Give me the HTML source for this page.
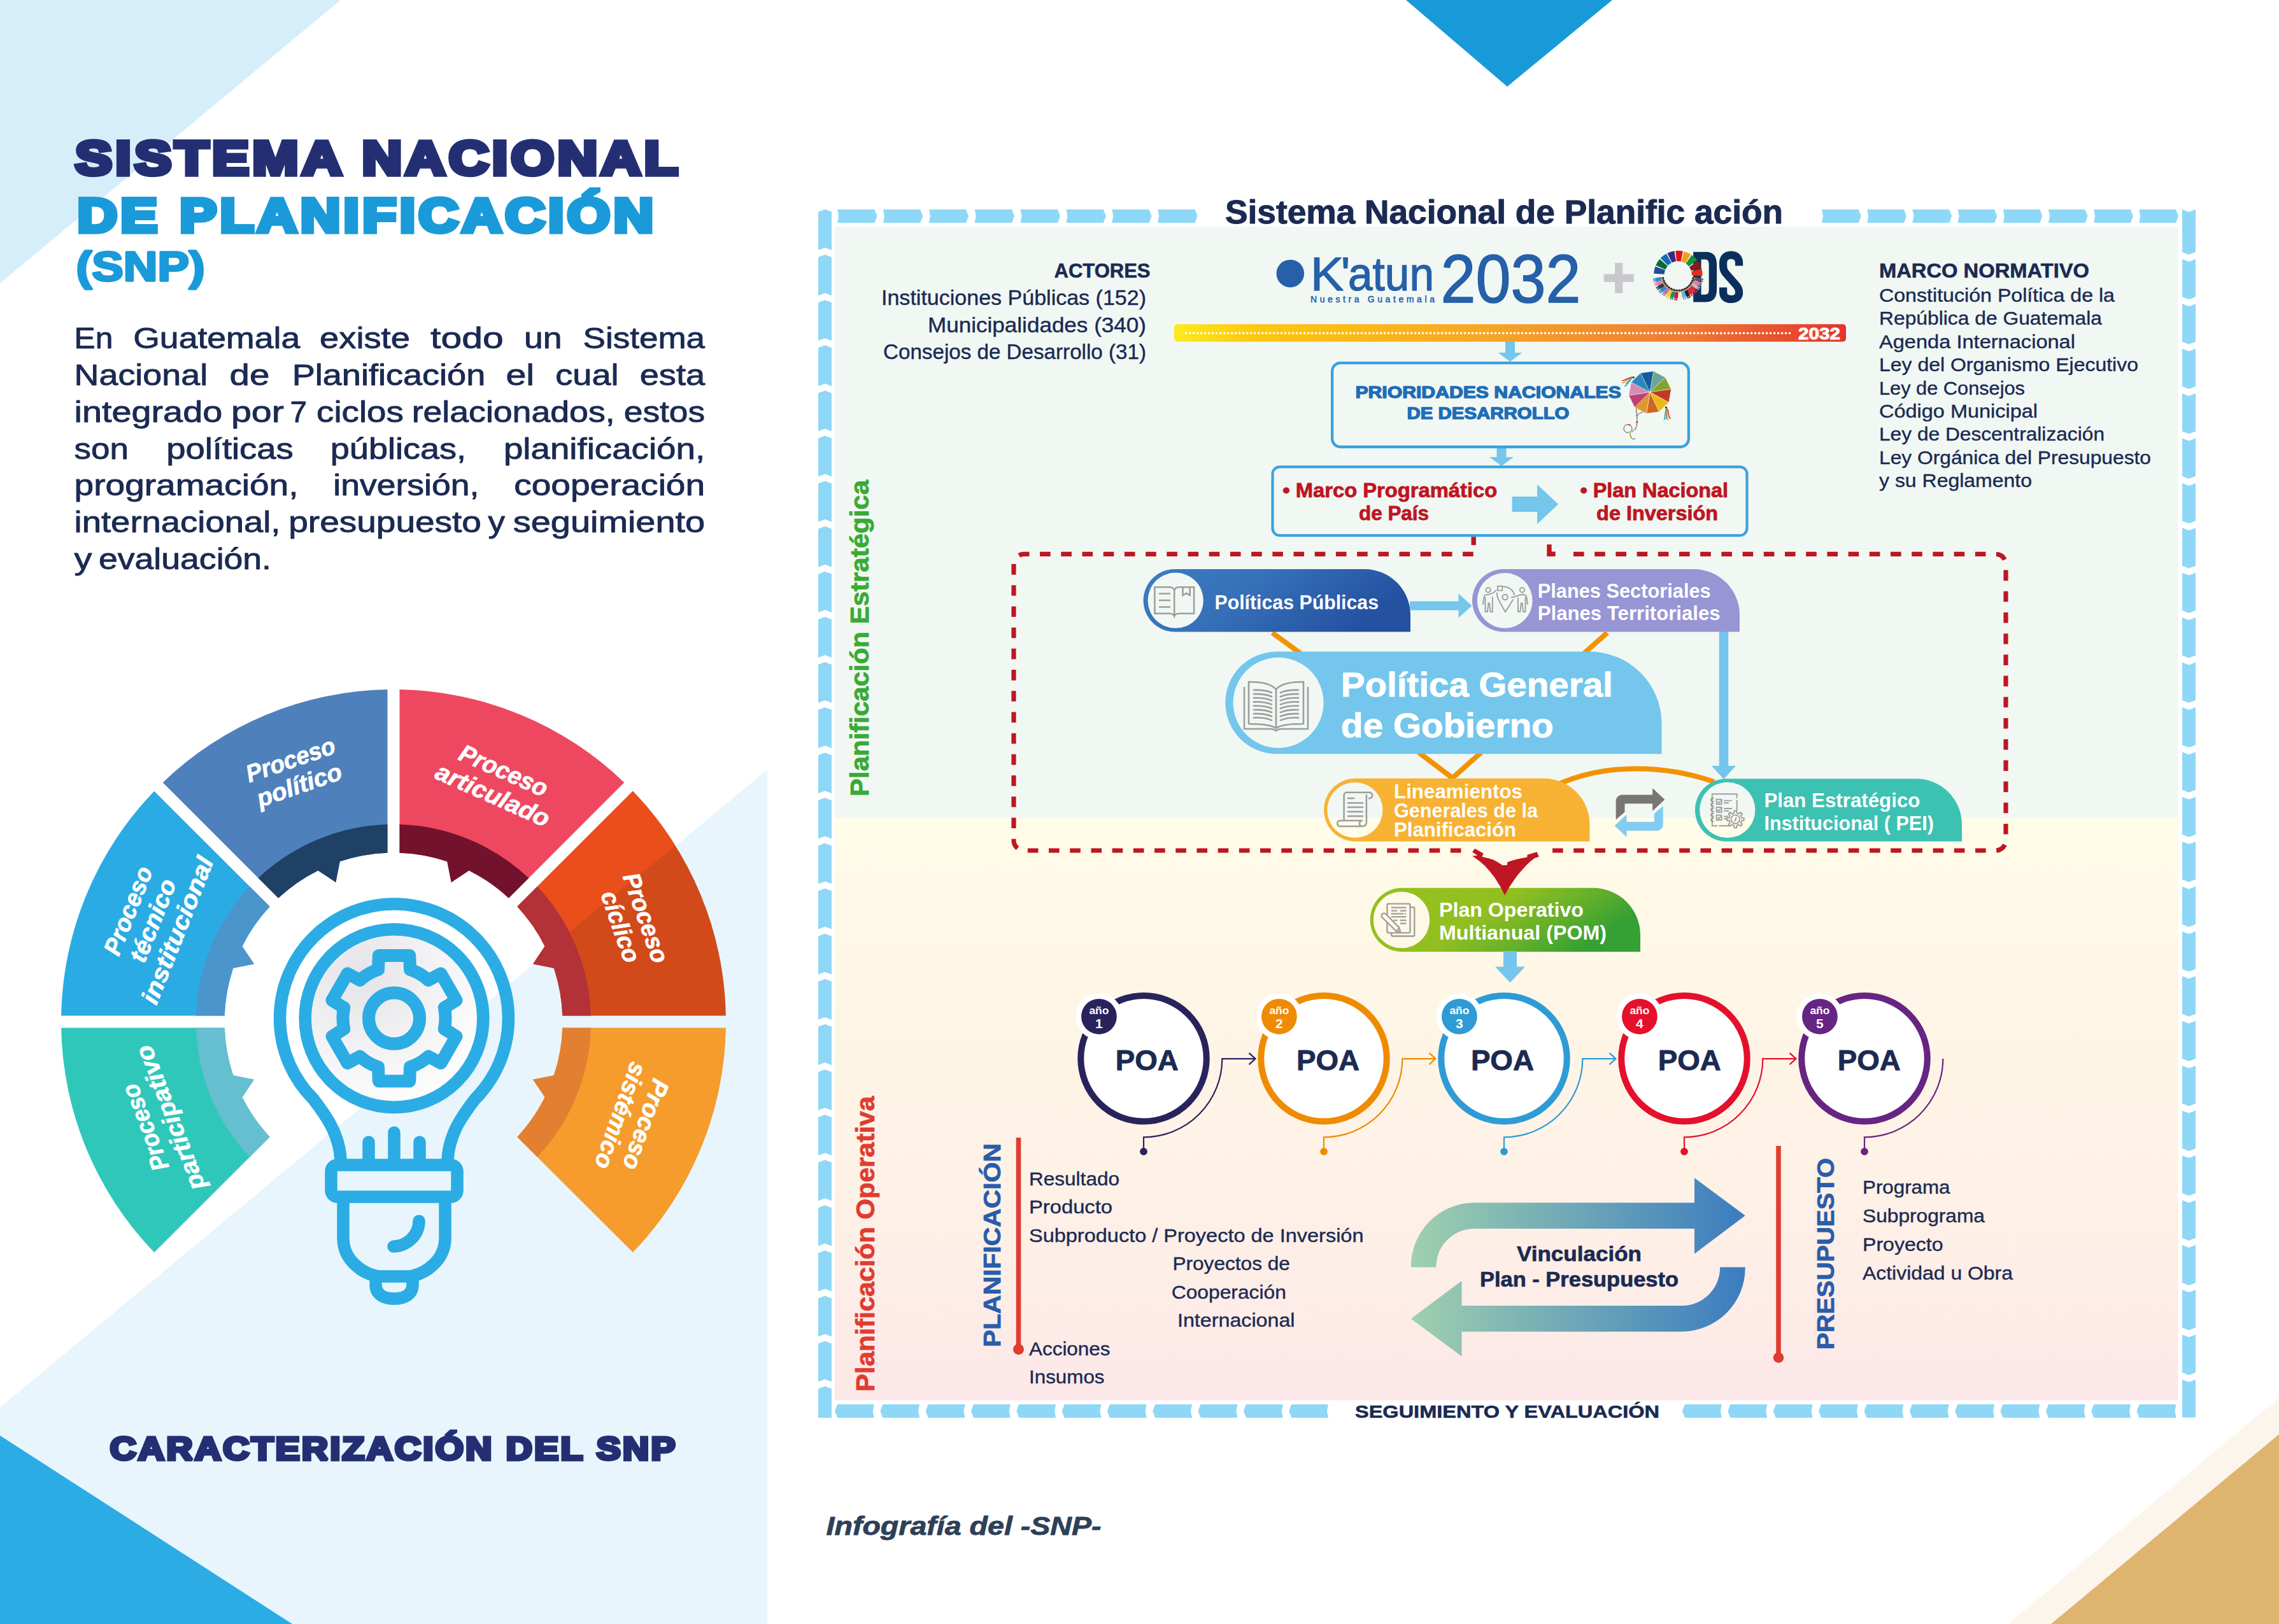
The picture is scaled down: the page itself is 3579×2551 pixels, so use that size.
<!DOCTYPE html>
<html><head><meta charset="utf-8"><title>SNP</title><style>html,body{margin:0;padding:0;background:#fff}body{width:3579px;height:2551px;overflow:hidden;font-family:"Liberation Sans",sans-serif}svg{display:block}</style></head><body>
<svg width="3579" height="2551" viewBox="0 0 3579 2551" font-family="'Liberation Sans', sans-serif">
<rect width="3579" height="2551" fill="#fff"/>
<polygon points="0,0 535,0 0,445" fill="#D6EEF9"/>
<polygon points="0,2211 1205,1209 1205,2551 0,2551" fill="#E8F5FC"/>
<polygon points="0,2255 459,2551 0,2551" fill="#2BACE4"/>
<polygon points="2208,0 2532,0 2367,136" fill="#189AD9"/>
<polygon points="3153.6,2551 3579,2195.8 3579,2551" fill="#FBF5EC"/>
<polygon points="3221,2551 3579,2253 3579,2551" fill="#DEB46F"/>
<text x="118.3" y="274.2" font-size="74" fill="#232F72" font-weight="700" textLength="952.0" lengthAdjust="spacingAndGlyphs" stroke="#232F72" stroke-width="7.5" stroke-linejoin="round" letter-spacing="5" style="stroke-linejoin:miter;stroke-miterlimit:2">SISTEMA NACIONAL</text>
<text x="121.7" y="363.7" font-size="74" fill="#1A9AD9" font-weight="700" textLength="910.0" lengthAdjust="spacingAndGlyphs" stroke="#1A9AD9" stroke-width="7.5" stroke-linejoin="round" letter-spacing="5" style="stroke-linejoin:miter;stroke-miterlimit:2">DE PLANIFICACIÓN</text>
<text x="119.6" y="440.5" font-size="64" fill="#1A9AD9" font-weight="700" textLength="202.0" lengthAdjust="spacingAndGlyphs" stroke="#1A9AD9" stroke-width="3.5" stroke-linejoin="round" >(SNP)</text>
<text x="116.6" y="547.4" font-size="46.5" fill="#1B2A52" textLength="60.9" lengthAdjust="spacingAndGlyphs" stroke="#1B2A52" stroke-width="0.9" stroke-linejoin="round" >En</text>
<text x="209.2" y="547.4" font-size="46.5" fill="#1B2A52" textLength="262.0" lengthAdjust="spacingAndGlyphs" stroke="#1B2A52" stroke-width="0.9" stroke-linejoin="round" >Guatemala</text>
<text x="502.1" y="547.4" font-size="46.5" fill="#1B2A52" textLength="141.8" lengthAdjust="spacingAndGlyphs" stroke="#1B2A52" stroke-width="0.9" stroke-linejoin="round" >existe</text>
<text x="676.1" y="547.4" font-size="46.5" fill="#1B2A52" textLength="114.6" lengthAdjust="spacingAndGlyphs" stroke="#1B2A52" stroke-width="0.9" stroke-linejoin="round" >todo</text>
<text x="823.0" y="547.4" font-size="46.5" fill="#1B2A52" textLength="59.5" lengthAdjust="spacingAndGlyphs" stroke="#1B2A52" stroke-width="0.9" stroke-linejoin="round" >un</text>
<text x="915.6" y="547.4" font-size="46.5" fill="#1B2A52" textLength="191.5" lengthAdjust="spacingAndGlyphs" stroke="#1B2A52" stroke-width="0.9" stroke-linejoin="round" >Sistema</text>
<text x="116.6" y="605.1" font-size="46.5" fill="#1B2A52" textLength="209.5" lengthAdjust="spacingAndGlyphs" stroke="#1B2A52" stroke-width="0.9" stroke-linejoin="round" >Nacional</text>
<text x="360.6" y="605.1" font-size="46.5" fill="#1B2A52" textLength="62.7" lengthAdjust="spacingAndGlyphs" stroke="#1B2A52" stroke-width="0.9" stroke-linejoin="round" >de</text>
<text x="458.7" y="605.1" font-size="46.5" fill="#1B2A52" textLength="303.6" lengthAdjust="spacingAndGlyphs" stroke="#1B2A52" stroke-width="0.9" stroke-linejoin="round" >Planificación</text>
<text x="794.5" y="605.1" font-size="46.5" fill="#1B2A52" textLength="44.6" lengthAdjust="spacingAndGlyphs" stroke="#1B2A52" stroke-width="0.9" stroke-linejoin="round" >el</text>
<text x="872.3" y="605.1" font-size="46.5" fill="#1B2A52" textLength="99.3" lengthAdjust="spacingAndGlyphs" stroke="#1B2A52" stroke-width="0.9" stroke-linejoin="round" >cual</text>
<text x="1004.7" y="605.1" font-size="46.5" fill="#1B2A52" textLength="102.4" lengthAdjust="spacingAndGlyphs" stroke="#1B2A52" stroke-width="0.9" stroke-linejoin="round" >esta</text>
<text x="116.6" y="662.8" font-size="46.5" fill="#1B2A52" textLength="232.6" lengthAdjust="spacingAndGlyphs" stroke="#1B2A52" stroke-width="0.9" stroke-linejoin="round" >integrado</text>
<text x="362.9" y="662.8" font-size="46.5" fill="#1B2A52" textLength="83.0" lengthAdjust="spacingAndGlyphs" stroke="#1B2A52" stroke-width="0.9" stroke-linejoin="round" >por</text>
<text x="455.5" y="662.8" font-size="46.5" fill="#1B2A52" textLength="26.5" lengthAdjust="spacingAndGlyphs" stroke="#1B2A52" stroke-width="0.9" stroke-linejoin="round" >7</text>
<text x="497.1" y="662.8" font-size="46.5" fill="#1B2A52" textLength="136.8" lengthAdjust="spacingAndGlyphs" stroke="#1B2A52" stroke-width="0.9" stroke-linejoin="round" >ciclos</text>
<text x="646.7" y="662.8" font-size="46.5" fill="#1B2A52" textLength="318.9" lengthAdjust="spacingAndGlyphs" stroke="#1B2A52" stroke-width="0.9" stroke-linejoin="round" >relacionados,</text>
<text x="979.8" y="662.8" font-size="46.5" fill="#1B2A52" textLength="127.3" lengthAdjust="spacingAndGlyphs" stroke="#1B2A52" stroke-width="0.9" stroke-linejoin="round" >estos</text>
<text x="116.6" y="720.5" font-size="46.5" fill="#1B2A52" textLength="85.3" lengthAdjust="spacingAndGlyphs" stroke="#1B2A52" stroke-width="0.9" stroke-linejoin="round" >son</text>
<text x="261.2" y="720.5" font-size="46.5" fill="#1B2A52" textLength="199.6" lengthAdjust="spacingAndGlyphs" stroke="#1B2A52" stroke-width="0.9" stroke-linejoin="round" >políticas</text>
<text x="518.8" y="720.5" font-size="46.5" fill="#1B2A52" textLength="213.2" lengthAdjust="spacingAndGlyphs" stroke="#1B2A52" stroke-width="0.9" stroke-linejoin="round" >públicas,</text>
<text x="790.9" y="720.5" font-size="46.5" fill="#1B2A52" textLength="316.2" lengthAdjust="spacingAndGlyphs" stroke="#1B2A52" stroke-width="0.9" stroke-linejoin="round" >planificación,</text>
<text x="116.6" y="778.2" font-size="46.5" fill="#1B2A52" textLength="351.9" lengthAdjust="spacingAndGlyphs" stroke="#1B2A52" stroke-width="0.9" stroke-linejoin="round" >programación,</text>
<text x="523.3" y="778.2" font-size="46.5" fill="#1B2A52" textLength="229.0" lengthAdjust="spacingAndGlyphs" stroke="#1B2A52" stroke-width="0.9" stroke-linejoin="round" >inversión,</text>
<text x="807.2" y="778.2" font-size="46.5" fill="#1B2A52" textLength="299.9" lengthAdjust="spacingAndGlyphs" stroke="#1B2A52" stroke-width="0.9" stroke-linejoin="round" >cooperación</text>
<text x="116.6" y="835.9" font-size="46.5" fill="#1B2A52" textLength="323.9" lengthAdjust="spacingAndGlyphs" stroke="#1B2A52" stroke-width="0.9" stroke-linejoin="round" >internacional,</text>
<text x="453.3" y="835.9" font-size="46.5" fill="#1B2A52" textLength="302.6" lengthAdjust="spacingAndGlyphs" stroke="#1B2A52" stroke-width="0.9" stroke-linejoin="round" >presupuesto</text>
<text x="766.5" y="835.9" font-size="46.5" fill="#1B2A52" textLength="26.5" lengthAdjust="spacingAndGlyphs" stroke="#1B2A52" stroke-width="0.9" stroke-linejoin="round" >y</text>
<text x="805.8" y="835.9" font-size="46.5" fill="#1B2A52" textLength="301.3" lengthAdjust="spacingAndGlyphs" stroke="#1B2A52" stroke-width="0.9" stroke-linejoin="round" >seguimiento</text>
<text x="116.6" y="893.6" font-size="46.5" fill="#1B2A52" textLength="27.9" lengthAdjust="spacingAndGlyphs" stroke="#1B2A52" stroke-width="0.9" stroke-linejoin="round" >y</text>
<text x="155.0" y="893.6" font-size="46.5" fill="#1B2A52" textLength="271.0" lengthAdjust="spacingAndGlyphs" stroke="#1B2A52" stroke-width="0.9" stroke-linejoin="round" >evaluación.</text>
<text x="172.7" y="2293.2" font-size="50" fill="#232F72" font-weight="700" textLength="891.0" lengthAdjust="spacingAndGlyphs" stroke="#232F72" stroke-width="5" stroke-linejoin="round" letter-spacing="3" style="stroke-linejoin:miter;stroke-miterlimit:2">CARACTERIZACIÓN DEL SNP</text>
<path d="M1139.9,1614.5 A522,522 0 0 1 993.8,1967.3 L812.3,1785.9 A265.5,265.5 0 0 0 855.6,1723.5 L837.0,1695.7 L869.8,1689.2 A265.5,265.5 0 0 0 883.3,1614.5 Z" fill="#F59C2D"/>
<path d="M927.9,1614.5 A310,310 0 0 1 843.8,1817.4 L812.3,1785.9 A265.5,265.5 0 0 0 855.6,1723.5 L837.0,1695.7 L869.8,1689.2 A265.5,265.5 0 0 0 883.3,1614.5 Z" fill="#E37F30"/>
<path d="M242.2,1967.3 A522,522 0 0 1 96.1,1614.5 L352.7,1614.5 A265.5,265.5 0 0 0 366.2,1689.2 L399.0,1695.7 L380.4,1723.5 A265.5,265.5 0 0 0 423.7,1785.9 Z" fill="#30C7BB"/>
<path d="M392.2,1817.4 A310,310 0 0 1 308.1,1614.5 L352.7,1614.5 A265.5,265.5 0 0 0 366.2,1689.2 L399.0,1695.7 L380.4,1723.5 A265.5,265.5 0 0 0 423.7,1785.9 Z" fill="#66BFD0"/>
<path d="M96.1,1595.5 A522,522 0 0 1 242.2,1242.7 L423.7,1424.1 A265.5,265.5 0 0 0 380.4,1486.5 L399.0,1514.3 L366.2,1520.8 A265.5,265.5 0 0 0 352.7,1595.5 Z" fill="#2BABE3"/>
<path d="M308.1,1595.5 A310,310 0 0 1 392.2,1392.6 L423.7,1424.1 A265.5,265.5 0 0 0 380.4,1486.5 L399.0,1514.3 L366.2,1520.8 A265.5,265.5 0 0 0 352.7,1595.5 Z" fill="#4A95CC"/>
<path d="M255.7,1229.2 A522,522 0 0 1 608.5,1083.1 L608.5,1339.7 A265.5,265.5 0 0 0 533.8,1353.2 L527.3,1386.0 L499.5,1367.4 A265.5,265.5 0 0 0 437.1,1410.7 Z" fill="#4E80BC"/>
<path d="M405.6,1379.2 A310,310 0 0 1 608.5,1295.1 L608.5,1339.7 A265.5,265.5 0 0 0 533.8,1353.2 L527.3,1386.0 L499.5,1367.4 A265.5,265.5 0 0 0 437.1,1410.7 Z" fill="#1F4166"/>
<path d="M627.5,1083.1 A522,522 0 0 1 980.3,1229.2 L798.9,1410.7 A265.5,265.5 0 0 0 736.5,1367.4 L708.7,1386.0 L702.2,1353.2 A265.5,265.5 0 0 0 627.5,1339.7 Z" fill="#EE4860"/>
<path d="M627.5,1295.1 A310,310 0 0 1 830.4,1379.2 L798.9,1410.7 A265.5,265.5 0 0 0 736.5,1367.4 L708.7,1386.0 L702.2,1353.2 A265.5,265.5 0 0 0 627.5,1339.7 Z" fill="#73122C"/>
<path d="M993.8,1242.7 A522,522 0 0 1 1139.9,1595.5 L883.3,1595.5 A265.5,265.5 0 0 0 869.8,1520.8 L837.0,1514.3 L855.6,1486.5 A265.5,265.5 0 0 0 812.3,1424.1 Z" fill="#D34A1A"/>
<clipPath id="cpc"><path d="M993.8,1242.7 A522,522 0 0 1 1139.9,1595.5 L883.3,1595.5 A265.5,265.5 0 0 0 869.8,1520.8 L837.0,1514.3 L855.6,1486.5 A265.5,265.5 0 0 0 812.3,1424.1 Z"/></clipPath><polygon clip-path="url(#cpc)" points="753.7,1578.4 1192.6,1220.8 1192,1000 700,1000 700,1578" fill="#E94E1B"/>
<path d="M843.8,1392.6 A310,310 0 0 1 927.9,1595.5 L883.3,1595.5 A265.5,265.5 0 0 0 869.8,1520.8 L837.0,1514.3 L855.6,1486.5 A265.5,265.5 0 0 0 812.3,1424.1 Z" fill="#B23238"/>
<g transform="translate(467.3,1225.7) rotate(-19)" font-size="38.5" font-weight="700" font-style="italic" fill="#fff" text-anchor="middle" stroke="#fff" stroke-width="0.7"><text x="0" y="-21.0" textLength="146" lengthAdjust="spacingAndGlyphs">Proceso</text><text x="0" y="21.0" textLength="139" lengthAdjust="spacingAndGlyphs">político</text></g>
<g transform="translate(777.1,1241.7) rotate(24)" font-size="38.5" font-weight="700" font-style="italic" fill="#fff" text-anchor="middle" stroke="#fff" stroke-width="0.7"><text x="0" y="-21.0" textLength="148" lengthAdjust="spacingAndGlyphs">Proceso</text><text x="0" y="21.0" textLength="192" lengthAdjust="spacingAndGlyphs">articulado</text></g>
<g transform="translate(252.2,1450.8) rotate(-68.3)" font-size="38.5" font-weight="700" font-style="italic" fill="#fff" text-anchor="middle" stroke="#fff" stroke-width="0.7"><text x="0" y="-41.6" textLength="146" lengthAdjust="spacingAndGlyphs">Proceso</text><text x="0" y="0.0" textLength="137" lengthAdjust="spacingAndGlyphs">técnico</text><text x="0" y="41.6" textLength="245" lengthAdjust="spacingAndGlyphs">institucional</text></g>
<g transform="translate(982,1453) rotate(70.7)" font-size="38.5" font-weight="700" font-style="italic" fill="#fff" text-anchor="middle" stroke="#fff" stroke-width="0.7"><text x="0" y="-21.0" textLength="147" lengthAdjust="spacingAndGlyphs">Proceso</text><text x="0" y="21.0" textLength="116.5" lengthAdjust="spacingAndGlyphs">cíclico</text></g>
<g transform="translate(260,1758.8) rotate(-111)" font-size="38.5" font-weight="700" font-style="italic" fill="#fff" text-anchor="middle" stroke="#fff" stroke-width="0.7"><text x="0" y="-21.0" textLength="143" lengthAdjust="spacingAndGlyphs">Proceso</text><text x="0" y="21.0" textLength="241" lengthAdjust="spacingAndGlyphs">participativo</text></g>
<g transform="translate(982,1755.1) rotate(109.6)" font-size="38.5" font-weight="700" font-style="italic" fill="#fff" text-anchor="middle" stroke="#fff" stroke-width="0.7"><text x="0" y="-21.0" textLength="148" lengthAdjust="spacingAndGlyphs">Proceso</text><text x="0" y="21.0" textLength="175" lengthAdjust="spacingAndGlyphs">sistémico</text></g>
<defs><radialGradient id="disc" cx="0.3" cy="0.25" r="0.9"><stop offset="0" stop-color="#E4E4E9"/><stop offset="0.55" stop-color="#F4F4F6"/><stop offset="1" stop-color="#FFFFFF"/></radialGradient><filter id="sh" x="-30%" y="-30%" width="160%" height="160%"><feGaussianBlur stdDeviation="7"/></filter></defs>
<g fill="none" stroke="#2BACE4" stroke-width="19.5" stroke-linecap="round" stroke-linejoin="round">
<path d="M535,1822 C533,1780 510,1750 492.1,1726.5 A179.5,179.5 0 1 1 745.9,1726.5 C728,1750 705,1780 703,1822"/>
<path d="M579,1794V1822M619,1779V1822M659,1794V1822"/>
<rect x="520" y="1830" width="198" height="50" rx="10"/>
<path d="M539,1886 V1945 C539,1980 570,2000 590,2004 V2018 C590,2034 604,2040 619,2040 C634,2040 648,2034 648,2018 V2004 C668,2000 699,1980 699,1945 V1886"/>
<path d="M590,2005 H648" />
<path d="M658,1918 C658,1940 640,1957 618,1958"/>
</g>
<circle cx="625" cy="1607.6" r="131" fill="#8090A0" opacity="0.45" filter="url(#sh)"/>
<circle cx="619" cy="1599.6" r="139.6" fill="none" stroke="#2BACE4" stroke-width="20"/>
<circle cx="619" cy="1599.6" r="130" fill="url(#disc)"/>
<path d="M594.0,1523.1 L594.8,1501.0 L643.2,1501.0 L644.0,1523.1 A80.5,80.5 0 0 1 672.8,1539.7 L692.3,1529.3 L716.5,1571.3 L697.8,1583.0 A80.5,80.5 0 0 1 697.8,1616.2 L716.5,1627.9 L692.3,1669.9 L672.8,1659.5 A80.5,80.5 0 0 1 644.0,1676.1 L643.2,1698.2 L594.8,1698.2 L594.0,1676.1 A80.5,80.5 0 0 1 565.2,1659.5 L545.7,1669.9 L521.5,1627.9 L540.2,1616.2 A80.5,80.5 0 0 1 540.2,1583.0 L521.5,1571.3 L545.7,1529.3 L565.2,1539.7 A80.5,80.5 0 0 1 594.0,1523.1 Z" fill="none" stroke="#2BACE4" stroke-width="20" stroke-linejoin="round"/>
<circle cx="619" cy="1599.6" r="40" fill="none" stroke="#2BACE4" stroke-width="20"/>
<defs><linearGradient id="gOp" x1="0" y1="0" x2="0" y2="1"><stop offset="0" stop-color="#FFFDE9"/><stop offset="0.1" stop-color="#FFFAE7"/><stop offset="0.3" stop-color="#FEF6E6"/><stop offset="0.6" stop-color="#FEF2E6"/><stop offset="0.8" stop-color="#FDEDE7"/><stop offset="1" stop-color="#FCE8E8"/></linearGradient><linearGradient id="gBar" x1="0" y1="0" x2="1" y2="0"><stop offset="0" stop-color="#FCEA1E"/><stop offset="0.12" stop-color="#FCC80E"/><stop offset="0.45" stop-color="#F7A823"/><stop offset="0.75" stop-color="#EF7D35"/><stop offset="1" stop-color="#E6332A"/></linearGradient><linearGradient id="gPP" x1="0" y1="0" x2="1" y2="0.3"><stop offset="0" stop-color="#3C7DC2"/><stop offset="0.45" stop-color="#3670B8"/><stop offset="1" stop-color="#2451A0"/></linearGradient><linearGradient id="gPOM" x1="0" y1="0" x2="1" y2="0.35"><stop offset="0" stop-color="#96C11F"/><stop offset="0.5" stop-color="#92BF20"/><stop offset="0.78" stop-color="#62AF2A"/><stop offset="1" stop-color="#35A033"/></linearGradient><linearGradient id="gArr" gradientUnits="userSpaceOnUse" x1="2215" y1="0" x2="2741" y2="0"><stop offset="0" stop-color="#9FD0AE"/><stop offset="1" stop-color="#3B7CC0"/></linearGradient></defs>
<rect x="1311" y="356" width="2109.5" height="930" fill="#F1F8F4"/>
<rect x="1311" y="1285" width="2109.5" height="914.5" fill="url(#gOp)"/>
<g fill="#8FD7F6">
<polygon points="1315.0,329 1373.4,329 1377.4,339.5 1373.4,350 1315.0,350 1317.0,339.5"/><polygon points="1386.9,329 1445.2,329 1449.2,339.5 1445.2,350 1386.9,350 1388.9,339.5"/><polygon points="1458.8,329 1517.1,329 1521.1,339.5 1517.1,350 1458.8,350 1460.8,339.5"/><polygon points="1530.6,329 1589.0,329 1593.0,339.5 1589.0,350 1530.6,350 1532.6,339.5"/><polygon points="1602.5,329 1660.9,329 1664.9,339.5 1660.9,350 1602.5,350 1604.5,339.5"/><polygon points="1674.4,329 1732.8,329 1736.8,339.5 1732.8,350 1674.4,350 1676.4,339.5"/><polygon points="1746.2,329 1804.6,329 1808.6,339.5 1804.6,350 1746.2,350 1748.2,339.5"/><polygon points="1818.1,329 1876.5,329 1880.5,339.5 1876.5,350 1818.1,350 1820.1,339.5"/>
<polygon points="2861.0,329 2918.7,329 2922.7,339.5 2918.7,350 2861.0,350 2863.0,339.5"/><polygon points="2932.2,329 2989.9,329 2993.9,339.5 2989.9,350 2932.2,350 2934.2,339.5"/><polygon points="3003.4,329 3061.1,329 3065.1,339.5 3061.1,350 3003.4,350 3005.4,339.5"/><polygon points="3074.6,329 3132.2,329 3136.2,339.5 3132.2,350 3074.6,350 3076.6,339.5"/><polygon points="3145.8,329 3203.4,329 3207.4,339.5 3203.4,350 3145.8,350 3147.8,339.5"/><polygon points="3216.9,329 3274.6,329 3278.6,339.5 3274.6,350 3216.9,350 3218.9,339.5"/><polygon points="3288.1,329 3345.8,329 3349.8,339.5 3345.8,350 3288.1,350 3290.1,339.5"/><polygon points="3359.3,329 3417.0,329 3421.0,339.5 3417.0,350 3359.3,350 3361.3,339.5"/>
<polygon points="1315.0,2206 1372.8,2206 1370.8,2216.5 1372.8,2227 1315.0,2227 1311.0,2216.5"/><polygon points="1386.3,2206 1444.1,2206 1442.1,2216.5 1444.1,2227 1386.3,2227 1382.3,2216.5"/><polygon points="1457.6,2206 1515.5,2206 1513.5,2216.5 1515.5,2227 1457.6,2227 1453.6,2216.5"/><polygon points="1529.0,2206 1586.8,2206 1584.8,2216.5 1586.8,2227 1529.0,2227 1525.0,2216.5"/><polygon points="1600.3,2206 1658.1,2206 1656.1,2216.5 1658.1,2227 1600.3,2227 1596.3,2216.5"/><polygon points="1671.6,2206 1729.4,2206 1727.4,2216.5 1729.4,2227 1671.6,2227 1667.6,2216.5"/><polygon points="1742.9,2206 1800.7,2206 1798.7,2216.5 1800.7,2227 1742.9,2227 1738.9,2216.5"/><polygon points="1814.2,2206 1872.0,2206 1870.0,2216.5 1872.0,2227 1814.2,2227 1810.2,2216.5"/><polygon points="1885.5,2206 1943.4,2206 1941.4,2216.5 1943.4,2227 1885.5,2227 1881.5,2216.5"/><polygon points="1956.9,2206 2014.7,2206 2012.7,2216.5 2014.7,2227 1956.9,2227 1952.9,2216.5"/><polygon points="2028.2,2206 2086.0,2206 2084.0,2216.5 2086.0,2227 2028.2,2227 2024.2,2216.5"/>
<polygon points="2646.0,2206 2703.9,2206 2701.9,2216.5 2703.9,2227 2646.0,2227 2642.0,2216.5"/><polygon points="2717.4,2206 2775.2,2206 2773.2,2216.5 2775.2,2227 2717.4,2227 2713.4,2216.5"/><polygon points="2788.7,2206 2846.6,2206 2844.6,2216.5 2846.6,2227 2788.7,2227 2784.7,2216.5"/><polygon points="2860.1,2206 2918.0,2206 2916.0,2216.5 2918.0,2227 2860.1,2227 2856.1,2216.5"/><polygon points="2931.5,2206 2989.3,2206 2987.3,2216.5 2989.3,2227 2931.5,2227 2927.5,2216.5"/><polygon points="3002.8,2206 3060.7,2206 3058.7,2216.5 3060.7,2227 3002.8,2227 2998.8,2216.5"/><polygon points="3074.2,2206 3132.0,2206 3130.0,2216.5 3132.0,2227 3074.2,2227 3070.2,2216.5"/><polygon points="3145.5,2206 3203.4,2206 3201.4,2216.5 3203.4,2227 3145.5,2227 3141.5,2216.5"/><polygon points="3216.9,2206 3274.8,2206 3272.8,2216.5 3274.8,2227 3216.9,2227 3212.9,2216.5"/><polygon points="3288.3,2206 3346.1,2206 3344.1,2216.5 3346.1,2227 3288.3,2227 3284.3,2216.5"/><polygon points="3359.6,2206 3417.5,2206 3415.5,2216.5 3417.5,2227 3359.6,2227 3355.6,2216.5"/>
<polygon points="1285,332.7 1295.5,328.7 1306,332.7 1306,393.1 1295.5,389.1 1285,393.1"/><polygon points="1285,404.1 1295.5,400.1 1306,404.1 1306,464.2 1295.5,460.2 1285,464.2"/><polygon points="1285,475.2 1295.5,471.2 1306,475.2 1306,535.3 1295.5,531.3 1285,535.3"/><polygon points="1285,546.3 1295.5,542.3 1306,546.3 1306,606.4 1295.5,602.4 1285,606.4"/><polygon points="1285,617.4 1295.5,613.4 1306,617.4 1306,677.5 1295.5,673.5 1285,677.5"/><polygon points="1285,688.5 1295.5,684.5 1306,688.5 1306,748.6 1295.5,744.6 1285,748.6"/><polygon points="1285,759.6 1295.5,755.6 1306,759.6 1306,819.7 1295.5,815.7 1285,819.7"/><polygon points="1285,830.7 1295.5,826.7 1306,830.7 1306,890.8 1295.5,886.8 1285,890.8"/><polygon points="1285,901.8 1295.5,897.8 1306,901.8 1306,961.9 1295.5,957.9 1285,961.9"/><polygon points="1285,972.9 1295.5,968.9 1306,972.9 1306,1033.0 1295.5,1029.0 1285,1033.0"/><polygon points="1285,1044.0 1295.5,1040.0 1306,1044.0 1306,1104.1 1295.5,1100.1 1285,1104.1"/><polygon points="1285,1115.1 1295.5,1111.1 1306,1115.1 1306,1175.2 1295.5,1171.2 1285,1175.2"/><polygon points="1285,1186.2 1295.5,1182.2 1306,1186.2 1306,1246.3 1295.5,1242.3 1285,1246.3"/><polygon points="1285,1257.3 1295.5,1253.3 1306,1257.3 1306,1317.4 1295.5,1313.4 1285,1317.4"/><polygon points="1285,1328.4 1295.5,1324.4 1306,1328.4 1306,1388.5 1295.5,1384.5 1285,1388.5"/><polygon points="1285,1399.5 1295.5,1395.5 1306,1399.5 1306,1459.6 1295.5,1455.6 1285,1459.6"/><polygon points="1285,1470.6 1295.5,1466.6 1306,1470.6 1306,1530.7 1295.5,1526.7 1285,1530.7"/><polygon points="1285,1541.7 1295.5,1537.7 1306,1541.7 1306,1601.8 1295.5,1597.8 1285,1601.8"/><polygon points="1285,1612.8 1295.5,1608.8 1306,1612.8 1306,1672.9 1295.5,1668.9 1285,1672.9"/><polygon points="1285,1683.9 1295.5,1679.9 1306,1683.9 1306,1744.0 1295.5,1740.0 1285,1744.0"/><polygon points="1285,1755.0 1295.5,1751.0 1306,1755.0 1306,1815.1 1295.5,1811.1 1285,1815.1"/><polygon points="1285,1826.1 1295.5,1822.1 1306,1826.1 1306,1886.2 1295.5,1882.2 1285,1886.2"/><polygon points="1285,1897.2 1295.5,1893.2 1306,1897.2 1306,1957.3 1295.5,1953.3 1285,1957.3"/><polygon points="1285,1968.3 1295.5,1964.3 1306,1968.3 1306,2028.4 1295.5,2024.4 1285,2028.4"/><polygon points="1285,2039.4 1295.5,2035.4 1306,2039.4 1306,2099.5 1295.5,2095.5 1285,2099.5"/><polygon points="1285,2110.5 1295.5,2106.5 1306,2110.5 1306,2170.6 1295.5,2166.6 1285,2170.6"/><polygon points="1285,2181.6 1295.5,2177.6 1306,2181.6 1306,2227.0 1295.5,2227.0 1285,2227.0"/>
<polygon points="3427,329.0 3437.5,333.0 3448,329.0 3448,395.9 3437.5,399.9 3427,395.9"/><polygon points="3427,406.9 3437.5,410.9 3448,406.9 3448,466.3 3437.5,470.3 3427,466.3"/><polygon points="3427,477.3 3437.5,481.3 3448,477.3 3448,536.7 3437.5,540.7 3427,536.7"/><polygon points="3427,547.7 3437.5,551.7 3448,547.7 3448,607.1 3437.5,611.1 3427,607.1"/><polygon points="3427,618.1 3437.5,622.1 3448,618.1 3448,677.5 3437.5,681.5 3427,677.5"/><polygon points="3427,688.5 3437.5,692.5 3448,688.5 3448,747.9 3437.5,751.9 3427,747.9"/><polygon points="3427,758.9 3437.5,762.9 3448,758.9 3448,818.3 3437.5,822.3 3427,818.3"/><polygon points="3427,829.3 3437.5,833.3 3448,829.3 3448,888.7 3437.5,892.7 3427,888.7"/><polygon points="3427,899.7 3437.5,903.7 3448,899.7 3448,959.1 3437.5,963.1 3427,959.1"/><polygon points="3427,970.1 3437.5,974.1 3448,970.1 3448,1029.5 3437.5,1033.5 3427,1029.5"/><polygon points="3427,1040.5 3437.5,1044.5 3448,1040.5 3448,1099.9 3437.5,1103.9 3427,1099.9"/><polygon points="3427,1110.9 3437.5,1114.9 3448,1110.9 3448,1170.3 3437.5,1174.3 3427,1170.3"/><polygon points="3427,1181.3 3437.5,1185.3 3448,1181.3 3448,1240.7 3437.5,1244.7 3427,1240.7"/><polygon points="3427,1251.7 3437.5,1255.7 3448,1251.7 3448,1311.1 3437.5,1315.1 3427,1311.1"/><polygon points="3427,1322.1 3437.5,1326.1 3448,1322.1 3448,1381.5 3437.5,1385.5 3427,1381.5"/><polygon points="3427,1392.5 3437.5,1396.5 3448,1392.5 3448,1451.9 3437.5,1455.9 3427,1451.9"/><polygon points="3427,1462.9 3437.5,1466.9 3448,1462.9 3448,1522.3 3437.5,1526.3 3427,1522.3"/><polygon points="3427,1533.3 3437.5,1537.3 3448,1533.3 3448,1592.7 3437.5,1596.7 3427,1592.7"/><polygon points="3427,1603.7 3437.5,1607.7 3448,1603.7 3448,1663.1 3437.5,1667.1 3427,1663.1"/><polygon points="3427,1674.1 3437.5,1678.1 3448,1674.1 3448,1733.5 3437.5,1737.5 3427,1733.5"/><polygon points="3427,1744.5 3437.5,1748.5 3448,1744.5 3448,1803.9 3437.5,1807.9 3427,1803.9"/><polygon points="3427,1814.9 3437.5,1818.9 3448,1814.9 3448,1874.3 3437.5,1878.3 3427,1874.3"/><polygon points="3427,1885.3 3437.5,1889.3 3448,1885.3 3448,1944.7 3437.5,1948.7 3427,1944.7"/><polygon points="3427,1955.7 3437.5,1959.7 3448,1955.7 3448,2015.1 3437.5,2019.1 3427,2015.1"/><polygon points="3427,2026.1 3437.5,2030.1 3448,2026.1 3448,2085.5 3437.5,2089.5 3427,2085.5"/><polygon points="3427,2096.5 3437.5,2100.5 3448,2096.5 3448,2155.9 3437.5,2159.9 3427,2155.9"/><polygon points="3427,2166.9 3437.5,2170.9 3448,2166.9 3448,2226.3 3437.5,2227.0 3427,2226.3"/>
</g>
<text x="1924.0" y="351.0" font-size="51" fill="#1B2A52" font-weight="700" textLength="876.0" lengthAdjust="spacingAndGlyphs" stroke="#1B2A52" stroke-width="1" stroke-linejoin="round" >Sistema Nacional de Planific ación</text>
<text x="2128.0" y="2226.5" font-size="28.5" fill="#1B2A52" font-weight="700" textLength="478.0" lengthAdjust="spacingAndGlyphs" stroke="#1B2A52" stroke-width="0.6" stroke-linejoin="round" >SEGUIMIENTO Y EVALUACIÓN</text>
<g transform="translate(1363.5,1251) rotate(-90)"><text x="0.0" y="0.0" font-size="41" fill="#3AAA35" font-weight="700" textLength="497.0" lengthAdjust="spacingAndGlyphs" stroke="#3AAA35" stroke-width="0.8" stroke-linejoin="round" >Planificación Estratégica</text>
</g>
<g transform="translate(1372.6,2186) rotate(-90)"><text x="0.0" y="0.0" font-size="41" fill="#E03C31" font-weight="700" textLength="464.0" lengthAdjust="spacingAndGlyphs" stroke="#E03C31" stroke-width="0.8" stroke-linejoin="round" >Planificación Operativa</text>
</g>
<text x="1806.5" y="436.0" font-size="31" fill="#1B2A52" font-weight="700" text-anchor="end" textLength="151.0" lengthAdjust="spacingAndGlyphs" stroke="#1B2A52" stroke-width="0.6" stroke-linejoin="round" >ACTORES</text>
<text x="1800.0" y="479.0" font-size="32.5" fill="#1B2A52" text-anchor="end" textLength="416.0" lengthAdjust="spacingAndGlyphs" stroke="#1B2A52" stroke-width="0.4" stroke-linejoin="round" >Instituciones Públicas (152)</text>
<text x="1800.0" y="521.5" font-size="32.5" fill="#1B2A52" text-anchor="end" textLength="343.0" lengthAdjust="spacingAndGlyphs" stroke="#1B2A52" stroke-width="0.4" stroke-linejoin="round" >Municipalidades (340)</text>
<text x="1800.0" y="564.0" font-size="32.5" fill="#1B2A52" text-anchor="end" textLength="413.0" lengthAdjust="spacingAndGlyphs" stroke="#1B2A52" stroke-width="0.4" stroke-linejoin="round" >Consejos de Desarrollo (31)</text>
<text x="2951.0" y="436.0" font-size="31" fill="#1B2A52" font-weight="700" textLength="330.0" lengthAdjust="spacingAndGlyphs" stroke="#1B2A52" stroke-width="0.6" stroke-linejoin="round" >MARCO NORMATIVO</text>
<text x="2951.0" y="474.0" font-size="30" fill="#1B2A52" textLength="370.0" lengthAdjust="spacingAndGlyphs" stroke="#1B2A52" stroke-width="0.4" stroke-linejoin="round" >Constitución Política de la</text>
<text x="2951.0" y="510.4" font-size="30" fill="#1B2A52" textLength="350.0" lengthAdjust="spacingAndGlyphs" stroke="#1B2A52" stroke-width="0.4" stroke-linejoin="round" >República de Guatemala</text>
<text x="2951.0" y="546.8" font-size="30" fill="#1B2A52" textLength="308.0" lengthAdjust="spacingAndGlyphs" stroke="#1B2A52" stroke-width="0.4" stroke-linejoin="round" >Agenda Internacional</text>
<text x="2951.0" y="583.2" font-size="30" fill="#1B2A52" textLength="407.0" lengthAdjust="spacingAndGlyphs" stroke="#1B2A52" stroke-width="0.4" stroke-linejoin="round" >Ley del Organismo Ejecutivo</text>
<text x="2951.0" y="619.6" font-size="30" fill="#1B2A52" textLength="229.0" lengthAdjust="spacingAndGlyphs" stroke="#1B2A52" stroke-width="0.4" stroke-linejoin="round" >Ley de Consejos</text>
<text x="2951.0" y="656.0" font-size="30" fill="#1B2A52" textLength="249.0" lengthAdjust="spacingAndGlyphs" stroke="#1B2A52" stroke-width="0.4" stroke-linejoin="round" >Código Municipal</text>
<text x="2951.0" y="692.4" font-size="30" fill="#1B2A52" textLength="354.0" lengthAdjust="spacingAndGlyphs" stroke="#1B2A52" stroke-width="0.4" stroke-linejoin="round" >Ley de Descentralización</text>
<text x="2951.0" y="728.8" font-size="30" fill="#1B2A52" textLength="427.0" lengthAdjust="spacingAndGlyphs" stroke="#1B2A52" stroke-width="0.4" stroke-linejoin="round" >Ley Orgánica del Presupuesto</text>
<text x="2951.0" y="765.2" font-size="30" fill="#1B2A52" textLength="240.0" lengthAdjust="spacingAndGlyphs" stroke="#1B2A52" stroke-width="0.4" stroke-linejoin="round" >y su Reglamento</text>
<circle cx="2026.3" cy="429.7" r="21.8" fill="#2560A8"/>
<text x="2058.0" y="456.0" font-size="74" fill="#2560A8" textLength="52.0" lengthAdjust="spacingAndGlyphs" stroke="#2560A8" stroke-width="1.3" stroke-linejoin="round" >K</text>
<text x="2106.0" y="456.0" font-size="74" fill="#2560A8" stroke="#2560A8" stroke-width="1.3" stroke-linejoin="round" >'</text>
<text x="2117.0" y="456.0" font-size="74" fill="#2560A8" textLength="135.0" lengthAdjust="spacingAndGlyphs" stroke="#2560A8" stroke-width="1.3" stroke-linejoin="round" >atun</text>
<text x="2058.0" y="475.3" font-size="14" fill="#2560A8" textLength="195.0" lengthAdjust="spacing" stroke="#2560A8" stroke-width="0.5" stroke-linejoin="round" >Nuestra Guatemala</text>
<text x="2262.5" y="474.6" font-size="107.5" fill="#2560A8" textLength="220.0" lengthAdjust="spacingAndGlyphs" stroke="#2560A8" stroke-width="1.6" stroke-linejoin="round" >2032</text>
<path d="M2518.6,430.6h17.5v-17.5h12.3v17.5h17.5v12.3h-17.5v17.5h-12.3v-17.5h-17.5z" fill="#C9C9CD"/>
<path fill="#0B2F5C" fill-rule="evenodd" d="M2659.2,395.8 H2679 C2692,395.8 2696.1,404 2696.1,416 V454 C2696.1,466 2692,474.4 2679,474.4 H2659.2 Z M2671.6,407.5 H2677.5 C2682.3,407.5 2683.7,410.5 2683.7,415.5 V454.7 C2683.7,459.8 2682.3,462.7 2677.5,462.7 H2671.6 Z"/><path fill="none" stroke="#0B2F5C" stroke-width="12.2" d="M2731.1,417.5 V413 C2731.1,405 2726.5,400.7 2718.6,400.7 C2710.6,400.7 2706.1,405 2706.1,413 V417 C2706.1,424 2708,427 2713,432.5 L2724.5,445.5 C2729.5,451 2731.1,454 2731.1,460 C2731.1,466 2726.5,470 2718.6,470 C2710.6,470 2706.1,466 2706.1,459 V451.5"/>
<circle cx="2635.3" cy="432.1" r="22.2" fill="#F1F8F4"/>
<path d="M2597.1,429.8 A38.3,38.3 0 0 1 2599.5,418.4 L2615.0,424.3 A21.7,21.7 0 0 0 2613.6,430.8Z" fill="#27499A"/><path d="M2600.2,416.8 A38.3,38.3 0 0 1 2606.4,406.9 L2619.0,417.8 A21.7,21.7 0 0 0 2615.4,423.4Z" fill="#0A6A37"/><path d="M2607.6,405.6 A38.3,38.3 0 0 1 2616.9,398.5 L2624.9,413.1 A21.7,21.7 0 0 0 2619.6,417.1Z" fill="#0F6DB6"/><path d="M2618.4,397.7 A38.3,38.3 0 0 1 2629.5,394.2 L2632.0,410.6 A21.7,21.7 0 0 0 2625.7,412.6Z" fill="#3D2A80"/><path d="M2631.3,394.0 A38.3,38.3 0 0 1 2642.9,394.6 L2639.6,410.8 A21.7,21.7 0 0 0 2633.0,410.5Z" fill="#E20F1B"/><path d="M2644.6,394.9 A38.3,38.3 0 0 1 2655.3,399.5 L2646.7,413.6 A21.7,21.7 0 0 0 2640.6,411.0Z" fill="#EFA212"/><path d="M2656.8,400.4 A38.3,38.3 0 0 1 2665.3,408.4 L2652.3,418.6 A21.7,21.7 0 0 0 2647.5,414.1Z" fill="#11933F"/><path d="M2666.4,409.7 A38.3,38.3 0 0 1 2671.7,420.1 L2655.9,425.3 A21.7,21.7 0 0 0 2652.9,419.4Z" fill="#8C1A17"/><path d="M2672.2,421.8 A38.3,38.3 0 0 1 2673.6,433.4 L2657.0,432.8 A21.7,21.7 0 0 0 2656.2,426.3Z" fill="#E42E15"/><g transform="translate(2635.3,432.1) rotate(-78.0)"><rect x="-2.9" y="27" width="5.8" height="9.5" fill="#555555"/><rect x="-2.4" y="36.5" width="1.9" height="3.6" fill="#555555"/><rect x="0.5" y="36.5" width="1.9" height="3.6" fill="#555555"/><circle cx="0" cy="24.6" r="2.2" fill="#3A2A22"/><rect x="-1.2" y="25" width="2.4" height="2.4" fill="#C98F6B"/></g><g transform="translate(2635.3,432.1) rotate(-67.6)"><rect x="-2.9" y="27" width="5.8" height="9.5" fill="#E77BB4"/><rect x="-2.4" y="36.5" width="1.9" height="3.6" fill="#E77BB4"/><rect x="0.5" y="36.5" width="1.9" height="3.6" fill="#E77BB4"/><circle cx="0" cy="24.6" r="2.2" fill="#3A2A22"/><rect x="-1.2" y="25" width="2.4" height="2.4" fill="#C98F6B"/></g><g transform="translate(2635.3,432.1) rotate(-57.2)"><rect x="-2.9" y="27" width="5.8" height="9.5" fill="#BDBDBD"/><rect x="-2.4" y="36.5" width="1.9" height="3.6" fill="#BDBDBD"/><rect x="0.5" y="36.5" width="1.9" height="3.6" fill="#BDBDBD"/><circle cx="0" cy="24.6" r="2.2" fill="#3A2A22"/><rect x="-1.2" y="25" width="2.4" height="2.4" fill="#C98F6B"/></g><g transform="translate(2635.3,432.1) rotate(-46.8)"><rect x="-2.9" y="27" width="5.8" height="9.5" fill="#D7263D"/><rect x="-2.4" y="36.5" width="1.9" height="3.6" fill="#D7263D"/><rect x="0.5" y="36.5" width="1.9" height="3.6" fill="#D7263D"/><circle cx="0" cy="24.6" r="2.2" fill="#3A2A22"/><rect x="-1.2" y="25" width="2.4" height="2.4" fill="#C98F6B"/></g><g transform="translate(2635.3,432.1) rotate(-36.4)"><rect x="-2.9" y="27" width="5.8" height="9.5" fill="#D7263D"/><rect x="-2.4" y="36.5" width="1.9" height="3.6" fill="#D7263D"/><rect x="0.5" y="36.5" width="1.9" height="3.6" fill="#D7263D"/><circle cx="0" cy="24.6" r="2.2" fill="#3A2A22"/><rect x="-1.2" y="25" width="2.4" height="2.4" fill="#C98F6B"/></g><g transform="translate(2635.3,432.1) rotate(-26.0)"><rect x="-2.9" y="27" width="5.8" height="9.5" fill="#222222"/><rect x="-2.4" y="36.5" width="1.9" height="3.6" fill="#222222"/><rect x="0.5" y="36.5" width="1.9" height="3.6" fill="#222222"/><circle cx="0" cy="24.6" r="2.2" fill="#3A2A22"/><rect x="-1.2" y="25" width="2.4" height="2.4" fill="#C98F6B"/></g><g transform="translate(2635.3,432.1) rotate(-15.6)"><rect x="-2.9" y="27" width="5.8" height="9.5" fill="#5BB8E0"/><rect x="-2.4" y="36.5" width="1.9" height="3.6" fill="#5BB8E0"/><rect x="0.5" y="36.5" width="1.9" height="3.6" fill="#5BB8E0"/><circle cx="0" cy="24.6" r="2.2" fill="#3A2A22"/><rect x="-1.2" y="25" width="2.4" height="2.4" fill="#C98F6B"/></g><g transform="translate(2635.3,432.1) rotate(-5.2)"><rect x="-2.9" y="27" width="5.8" height="9.5" fill="#F5EEC8"/><rect x="-2.4" y="36.5" width="1.9" height="3.6" fill="#F5EEC8"/><rect x="0.5" y="36.5" width="1.9" height="3.6" fill="#F5EEC8"/><circle cx="0" cy="24.6" r="2.2" fill="#3A2A22"/><rect x="-1.2" y="25" width="2.4" height="2.4" fill="#C98F6B"/></g><g transform="translate(2635.3,432.1) rotate(5.2)"><rect x="-2.9" y="27" width="5.8" height="9.5" fill="#C2185B"/><rect x="-2.4" y="36.5" width="1.9" height="3.6" fill="#C2185B"/><rect x="0.5" y="36.5" width="1.9" height="3.6" fill="#C2185B"/><circle cx="0" cy="24.6" r="2.2" fill="#3A2A22"/><rect x="-1.2" y="25" width="2.4" height="2.4" fill="#C98F6B"/></g><g transform="translate(2635.3,432.1) rotate(15.6)"><rect x="-2.9" y="27" width="5.8" height="9.5" fill="#1C8C5A"/><rect x="-2.4" y="36.5" width="1.9" height="3.6" fill="#1C8C5A"/><rect x="0.5" y="36.5" width="1.9" height="3.6" fill="#1C8C5A"/><circle cx="0" cy="24.6" r="2.2" fill="#3A2A22"/><rect x="-1.2" y="25" width="2.4" height="2.4" fill="#C98F6B"/></g><g transform="translate(2635.3,432.1) rotate(26.0)"><rect x="-2.9" y="27" width="5.8" height="9.5" fill="#F2D21B"/><rect x="-2.4" y="36.5" width="1.9" height="3.6" fill="#F2D21B"/><rect x="0.5" y="36.5" width="1.9" height="3.6" fill="#F2D21B"/><circle cx="0" cy="24.6" r="2.2" fill="#3A2A22"/><rect x="-1.2" y="25" width="2.4" height="2.4" fill="#C98F6B"/></g><g transform="translate(2635.3,432.1) rotate(36.4)"><rect x="-2.9" y="27" width="5.8" height="9.5" fill="#B86FC0"/><rect x="-2.4" y="36.5" width="1.9" height="3.6" fill="#B86FC0"/><rect x="0.5" y="36.5" width="1.9" height="3.6" fill="#B86FC0"/><circle cx="0" cy="24.6" r="2.2" fill="#3A2A22"/><rect x="-1.2" y="25" width="2.4" height="2.4" fill="#C98F6B"/></g><g transform="translate(2635.3,432.1) rotate(46.8)"><rect x="-2.9" y="27" width="5.8" height="9.5" fill="#2B8CC4"/><rect x="-2.4" y="36.5" width="1.9" height="3.6" fill="#2B8CC4"/><rect x="0.5" y="36.5" width="1.9" height="3.6" fill="#2B8CC4"/><circle cx="0" cy="24.6" r="2.2" fill="#3A2A22"/><rect x="-1.2" y="25" width="2.4" height="2.4" fill="#C98F6B"/></g><g transform="translate(2635.3,432.1) rotate(57.2)"><rect x="-2.9" y="27" width="5.8" height="9.5" fill="#3A3A3A"/><rect x="-2.4" y="36.5" width="1.9" height="3.6" fill="#3A3A3A"/><rect x="0.5" y="36.5" width="1.9" height="3.6" fill="#3A3A3A"/><circle cx="0" cy="24.6" r="2.2" fill="#3A2A22"/><rect x="-1.2" y="25" width="2.4" height="2.4" fill="#C98F6B"/></g><g transform="translate(2635.3,432.1) rotate(67.6)"><rect x="-2.9" y="27" width="5.8" height="9.5" fill="#E77BB4"/><rect x="-2.4" y="36.5" width="1.9" height="3.6" fill="#E77BB4"/><rect x="0.5" y="36.5" width="1.9" height="3.6" fill="#E77BB4"/><circle cx="0" cy="24.6" r="2.2" fill="#3A2A22"/><rect x="-1.2" y="25" width="2.4" height="2.4" fill="#C98F6B"/></g><g transform="translate(2635.3,432.1) rotate(78.0)"><rect x="-2.9" y="27" width="5.8" height="9.5" fill="#2B8CC4"/><rect x="-2.4" y="36.5" width="1.9" height="3.6" fill="#2B8CC4"/><rect x="0.5" y="36.5" width="1.9" height="3.6" fill="#2B8CC4"/><circle cx="0" cy="24.6" r="2.2" fill="#3A2A22"/><rect x="-1.2" y="25" width="2.4" height="2.4" fill="#C98F6B"/></g>
<rect x="1844" y="509.3" width="1055" height="27.5" rx="5" fill="url(#gBar)"/>
<line x1="1861" y1="523.3" x2="2815" y2="523.3" stroke="#fff" stroke-width="3.2" stroke-dasharray="3.2 2.8"/>
<text x="2824.0" y="532.5" font-size="26" fill="#fff" font-weight="700" textLength="66.0" lengthAdjust="spacingAndGlyphs" stroke="#fff" stroke-width="1" stroke-linejoin="round" >2032</text>
<path d="M2364.0,536 H2379.0 V554 H2390.5 L2371.5,568 L2352.5,554 H2364.0Z" fill="#74C6EC"/>
<path d="M2350.5,703 H2365.5 V718 H2377.0 L2358,732 L2339.0,718 H2350.5Z" fill="#74C6EC"/>
<rect x="2092.1" y="570.2" width="559.8" height="131.8" rx="12.7" fill="#F1F8F4" stroke="#3AA2DF" stroke-width="4.3"/>
<text x="2128.4" y="625.0" font-size="26.5" fill="#1E6DB6" font-weight="700" textLength="417.5" lengthAdjust="spacingAndGlyphs" stroke="#1E6DB6" stroke-width="1.4" stroke-linejoin="round" >PRIORIDADES NACIONALES</text>
<text x="2209.5" y="658.0" font-size="26.5" fill="#1E6DB6" font-weight="700" textLength="255.0" lengthAdjust="spacingAndGlyphs" stroke="#1E6DB6" stroke-width="1.4" stroke-linejoin="round" >DE DESARROLLO</text>
<polygon points="2591.1,615.9 2596.7,583.1 2615.2,592.8" fill="#6BA594" stroke="#F6F8F2" stroke-width="0.5"/><polygon points="2591.1,615.9 2615.2,592.8 2624.4,611.3" fill="#82A42F" stroke="#F6F8F2" stroke-width="0.5"/><polygon points="2591.1,615.9 2624.4,611.3 2620.7,632.1" fill="#C23826" stroke="#F6F8F2" stroke-width="0.5"/><polygon points="2591.1,615.9 2620.7,632.1 2605.5,646.8" fill="#E6BC14" stroke="#F6F8F2" stroke-width="0.5"/><polygon points="2591.1,615.9 2605.5,646.8 2585.6,649.6" fill="#D16624" stroke="#F6F8F2" stroke-width="0.5"/><polygon points="2591.1,615.9 2585.6,649.6 2567.1,639.9" fill="#DD9830" stroke="#F6F8F2" stroke-width="0.5"/><polygon points="2591.1,615.9 2567.1,639.9 2557.9,621.0" fill="#C04076" stroke="#F6F8F2" stroke-width="0.5"/><polygon points="2591.1,615.9 2557.9,621.0 2561.6,600.6" fill="#D18DB7" stroke="#F6F8F2" stroke-width="0.5"/><polygon points="2591.1,615.9 2561.6,600.6 2576.4,585.9" fill="#2C88BC" stroke="#F6F8F2" stroke-width="0.5"/><polygon points="2591.1,615.9 2576.4,585.9 2596.7,583.1" fill="#125C9C" stroke="#F6F8F2" stroke-width="0.5"/><g fill="none" stroke="#4A332B" stroke-width="0.9"><polyline points="2569.4,641.3 2570.6,652.4 2571.0,662.5 2570.3,669.0 2567.6,674.5 2562.5,678.7"/><polyline points="2580.5,646.8 2571.7,651.0"/><circle cx="2556.5" cy="673.2" r="6.5"/><path d="M2560.6,680.1 C2558.8,685.6 2563.4,693.0 2568.5,688.4"/></g><rect x="2569.2" y="651.9" width="3.2" height="1.8" fill="#2A9BD8"/><rect x="2569.2" y="662.1" width="3.2" height="1.8" fill="#D8232A"/><rect x="2566.9" y="673.2" width="3.2" height="1.8" fill="#F2A620"/><rect x="2557.2" y="666.7" width="3.2" height="1.8" fill="#D8232A"/><rect x="2555.4" y="678.3" width="3.2" height="1.8" fill="#8DC63F"/><rect x="2559.5" y="684.9" width="3.2" height="1.8" fill="#F2A620"/><circle cx="2565.3" cy="592.8" r="1.6" fill="#3A2A22"/><circle cx="2616.5" cy="640.2" r="1.6" fill="#3A2A22"/><path d="M2563.4,591.9 C2557.0,593.3 2551.4,597.9 2547.3,597.9" fill="none" stroke="#D8232A" stroke-width="1.5"/><path d="M2563.4,592.3 C2557.9,595.1 2552.3,600.6 2547.3,602.0" fill="none" stroke="#F28C1E" stroke-width="1.5"/><path d="M2563.4,592.5 C2558.8,596.5 2557.0,601.6 2553.3,602.5" fill="none" stroke="#3FA535" stroke-width="1.5"/><path d="M2563.4,592.8 C2559.7,597.0 2557.0,603.4 2551.4,607.1" fill="none" stroke="#2A9BD8" stroke-width="1.5"/><path d="M2617.0,641.8 C2614.2,648.7 2615.2,654.2 2613.3,659.8" fill="none" stroke="#2A9BD8" stroke-width="1.5"/><path d="M2617.5,641.8 C2616.1,648.7 2617.9,654.2 2616.1,658.8" fill="none" stroke="#3FA535" stroke-width="1.5"/><path d="M2617.9,641.8 C2617.9,648.7 2617.0,655.2 2619.8,660.2" fill="none" stroke="#F28C1E" stroke-width="1.5"/><path d="M2618.4,641.8 C2621.6,647.8 2618.8,654.2 2623.5,657.9" fill="none" stroke="#D8232A" stroke-width="1.5"/>
<rect x="1998.5" y="733.4" width="745" height="107.7" rx="11" fill="#F1F8F4" stroke="#3AA2DF" stroke-width="4.2"/>
<text x="2014.2" y="780.9" font-size="30.5" fill="#BE1622" font-weight="700" textLength="337.0" lengthAdjust="spacingAndGlyphs" stroke="#BE1622" stroke-width="0.8" stroke-linejoin="round" >• Marco Programático</text>
<text x="2134.0" y="816.5" font-size="30.5" fill="#BE1622" font-weight="700" textLength="110.0" lengthAdjust="spacingAndGlyphs" stroke="#BE1622" stroke-width="0.8" stroke-linejoin="round" >de País</text>
<text x="2481.4" y="780.9" font-size="30.5" fill="#BE1622" font-weight="700" textLength="232.7" lengthAdjust="spacingAndGlyphs" stroke="#BE1622" stroke-width="0.8" stroke-linejoin="round" >• Plan Nacional</text>
<text x="2507.1" y="816.5" font-size="30.5" fill="#BE1622" font-weight="700" textLength="191.0" lengthAdjust="spacingAndGlyphs" stroke="#BE1622" stroke-width="0.8" stroke-linejoin="round" >de Inversión</text>
<path d="M2374.6,780.0 H2414.0 V760.85 L2447.2,792 L2414.0,823.15 V804.0 H2374.6Z" fill="#74C6EC"/>
<g fill="none" stroke="#BE1622" stroke-width="7.2" stroke-dasharray="16.6 16.6"><path d="M2313.7,870.3 H1608 A16,16 0 0 0 1592,886.3 V1320 A16,16 0 0 0 1608,1336 H2302"/><path d="M2471,870.3 H3134 A16,16 0 0 1 3150,886.3 V1320 A16,16 0 0 1 3134,1336 H2430"/></g>
<path d="M2314.2,843.2V856.2M2433,855.2V870.3H2442.7" fill="none" stroke="#BE1622" stroke-width="7.4"/>
<g fill="none" stroke="#F39200" stroke-width="8"><path d="M1998,994 L2042,1026"/><path d="M2524,994 L2488,1026"/><path d="M2228,1182 L2281,1222 L2326,1182"/><path d="M2447,1232 C2520,1200 2610,1200 2692,1228"/></g>
<path d="M2699.75,990 H2714.25 V1203 H2726.0 L2707,1224 L2688.0,1203 H2699.75Z" fill="#74C6EC"/>
<path d="M1844.8,894.0 H2143.0 A72.0,72.0 0 0 1 2215.0,966.0 V992.5 H1844.8 A49.2,49.2 0 0 1 1844.8,894.0 Z M1802.6,943.2 a43.6,43.6 0 1 0 87.2,0 a43.6,43.6 0 1 0 -87.2,0Z" fill="url(#gPP)" fill-rule="evenodd"/>
<text x="1907.5" y="957.0" font-size="31.5" fill="#fff" font-weight="700" textLength="257.5" lengthAdjust="spacingAndGlyphs" >Políticas Públicas</text>
<path d="M2214,944.5 H2290.5 V932.5 L2311.5,951.5 L2290.5,970.5 V958.5 H2214Z" fill="#74C6EC"/>
<path d="M2361.2,894.0 H2660.0 A72.0,72.0 0 0 1 2732.0,966.0 V992.5 H2361.2 A49.2,49.2 0 0 1 2361.2,894.0 Z M2319.8,943.3 a43.4,43.4 0 1 0 86.8,0 a43.4,43.4 0 1 0 -86.8,0Z" fill="#9895D4" fill-rule="evenodd"/>
<text x="2414.7" y="938.5" font-size="30.5" fill="#fff" font-weight="700" textLength="272.0" lengthAdjust="spacingAndGlyphs" >Planes Sectoriales</text>
<text x="2414.7" y="973.8" font-size="30.5" fill="#fff" font-weight="700" textLength="287.0" lengthAdjust="spacingAndGlyphs" >Planes Territoriales</text>
<path d="M2004.6,1023.6 H2496.5 A113.0,113.0 0 0 1 2609.5,1136.6 V1184.2 H2004.6 A80.3,80.3 0 0 1 2004.6,1023.6 Z M1936.6,1103.8 a71,71 0 1 0 142,0 a71,71 0 1 0 -142,0Z" fill="#74C6EC" fill-rule="evenodd"/>
<text x="2106.0" y="1094.2" font-size="53.5" fill="#fff" font-weight="700" textLength="427.0" lengthAdjust="spacingAndGlyphs" stroke="#fff" stroke-width="1" stroke-linejoin="round" >Política General</text>
<text x="2106.0" y="1158.0" font-size="53.5" fill="#fff" font-weight="700" textLength="334.0" lengthAdjust="spacingAndGlyphs" stroke="#fff" stroke-width="1" stroke-linejoin="round" >de Gobierno</text>
<path d="M2126.4,1222.8 H2424.5 A72.0,72.0 0 0 1 2496.5,1294.8 V1321.7 H2126.4 A49.5,49.5 0 0 1 2126.4,1222.8 Z M2084.2,1272.5 a43.6,43.6 0 1 0 87.2,0 a43.6,43.6 0 1 0 -87.2,0Z" fill="#F7B234" fill-rule="evenodd"/>
<text x="2189.0" y="1254.0" font-size="30.5" fill="#fff" font-weight="700" textLength="202.0" lengthAdjust="spacingAndGlyphs" >Lineamientos</text>
<text x="2189.0" y="1283.9" font-size="30.5" fill="#fff" font-weight="700" textLength="226.0" lengthAdjust="spacingAndGlyphs" >Generales de la</text>
<text x="2189.0" y="1313.8" font-size="30.5" fill="#fff" font-weight="700" textLength="192.0" lengthAdjust="spacingAndGlyphs" >Planificación</text>
<path d="M2711.2,1223.2 H3009.0 A72.0,72.0 0 0 1 3081.0,1295.2 V1321.7 H2711.2 A49.2,49.2 0 0 1 2711.2,1223.2 Z M2669.2,1272.4 a43.6,43.6 0 1 0 87.2,0 a43.6,43.6 0 1 0 -87.2,0Z" fill="#3DC1B2" fill-rule="evenodd"/>
<text x="2770.4" y="1267.5" font-size="30.5" fill="#fff" font-weight="700" textLength="245.0" lengthAdjust="spacingAndGlyphs" >Plan Estratégico</text>
<text x="2770.4" y="1303.7" font-size="30.5" fill="#fff" font-weight="700" textLength="266.5" lengthAdjust="spacingAndGlyphs" >Institucional ( PEI)</text>
<path d="M2538.1,1286.7 V1258 A9,9 0 0 1 2547.1,1249 H2595.7 V1239 L2613.8,1256 L2595.7,1273 V1261.9 H2553 A2,2 0 0 0 2551,1263.9 V1275.6 Z" fill="#7A7674" stroke="#7A7674" stroke-width="1" stroke-linejoin="round"/>
<path d="M2611.2,1267.1 V1295.4 A9,9 0 0 1 2602.2,1304.4 H2554 V1314 L2536.1,1297 L2554,1280.4 V1291.5 H2596.3 A2,2 0 0 0 2598.3,1289.5 V1278.2 Z" fill="#83CBF1" stroke="#83CBF1" stroke-width="1" stroke-linejoin="round"/>
<path d="M2199.5,1394.8 H2502.0 A74.0,74.0 0 0 1 2576.0,1468.8 V1494.9 H2199.5 A50.1,50.1 0 0 1 2199.5,1394.8 Z M2156.8,1445.0 a44.2,44.2 0 1 0 88.4,0 a44.2,44.2 0 1 0 -88.4,0Z" fill="url(#gPOM)" fill-rule="evenodd"/>
<text x="2260.0" y="1440.0" font-size="30.5" fill="#fff" font-weight="700" textLength="227.0" lengthAdjust="spacingAndGlyphs" >Plan Operativo</text>
<text x="2260.0" y="1476.0" font-size="30.5" fill="#fff" font-weight="700" textLength="263.0" lengthAdjust="spacingAndGlyphs" >Multianual (POM)</text>
<path d="M2312.1,1338.3 L2316.2,1333.1 L2329.6,1340.5 L2327.4,1345.7 Q2336,1347.5 2344.9,1350.6 Q2352,1354 2359.8,1359.2 L2366.9,1358.8 L2367.3,1354.3 Q2375,1351.5 2382.9,1349.5 L2398.2,1346.5 L2398.6,1342.8 L2413.5,1338.3 L2416.9,1345.7 L2409.8,1348 Q2400,1355 2391.9,1364.8 Q2384,1373 2377,1383.4 Q2369,1394 2363.2,1406.5 Q2356,1391 2347.1,1378.2 Q2340,1369 2332.2,1360.3 Q2322,1351 2312.1,1344.6 L2320.3,1343.9 Z" fill="#BE1622"/>
<path d="M2361.0,1494 H2382.0 V1518.5 H2395.0 L2371.5,1543.5 L2348.0,1518.5 H2361.0Z" fill="#74C6EC"/>
<g fill="none" stroke="#9D9D9C" stroke-width="2.5" stroke-linejoin="round" stroke-linecap="round">
<path d="M1844.2,927.5 V968 M1813.4,922.3 H1837 Q1843,922.5 1844.2,927.5 Q1845.5,922.5 1851,922.3 H1875.1 V963.7 H1851 Q1845.5,964 1844.2,968 Q1843,964 1837,963.7 H1813.4 Z" stroke-linejoin="miter"/><path d="M1821,932.6 H1837 M1821,943.1 H1837 M1821,953.5 H1837"/><path d="M1857.5,922.3 V935.2 L1863,932 L1868.7,935.2 V922.3" stroke-linejoin="miter" stroke-linecap="butt"/>
<g stroke-width="2.6"><path d="M1954,1080 V1145 H1994 C2000,1145 2003,1147 2004,1148 C2005,1147 2008,1145 2014,1145 H2054 V1080"/><path d="M2004,1083 V1144 M2004,1083 C1996,1073 1978,1071 1961,1071 V1137 C1978,1137 1996,1138 2004,1144 C2012,1138 2030,1137 2047,1137 V1071 C2030,1071 2012,1073 2004,1083"/><path d="M1969,1084.0 C1980,1083.5 1990,1085.0 1997,1088.0 M2039,1084.0 C2028,1083.5 2018,1085.0 2011,1088.0"/><path d="M1969,1090.2 C1980,1089.7 1990,1091.2 1997,1094.2 M2039,1090.2 C2028,1089.7 2018,1091.2 2011,1094.2"/><path d="M1969,1096.4 C1980,1095.9 1990,1097.4 1997,1100.4 M2039,1096.4 C2028,1095.9 2018,1097.4 2011,1100.4"/><path d="M1969,1102.6 C1980,1102.1 1990,1103.6 1997,1106.6 M2039,1102.6 C2028,1102.1 2018,1103.6 2011,1106.6"/><path d="M1969,1108.8 C1980,1108.3 1990,1109.8 1997,1112.8 M2039,1108.8 C2028,1108.3 2018,1109.8 2011,1112.8"/><path d="M1969,1115.0 C1980,1114.5 1990,1116.0 1997,1119.0 M2039,1115.0 C2028,1114.5 2018,1116.0 2011,1119.0"/><path d="M1969,1121.2 C1980,1120.7 1990,1122.2 1997,1125.2 M2039,1121.2 C2028,1120.7 2018,1122.2 2011,1125.2"/><path d="M1969,1127.4 C1980,1126.9 1990,1128.4 1997,1131.4 M2039,1127.4 C2028,1126.9 2018,1128.4 2011,1131.4"/></g>
<g stroke-width="1.9"><circle cx="2337.2" cy="926.8" r="3.7"/><path d="M2329,949 L2330.6,938 Q2331,935 2334.4,934.4 C2340,933.5 2346,932 2349.6,927.2"/><path d="M2332.5,939 V961 H2336 L2337.5,947.5 H2339 L2340.5,961 H2343.8 V938"/><circle cx="2390.5" cy="926.8" r="3.7"/><path d="M2373.7,938.5 C2380,938 2385,934 2390,934 Q2397,934 2397.4,938 L2399,949"/><path d="M2384,939.5 V961 H2387.3 L2388.8,947.5 H2390.6 L2392,961 H2395.5 V938.5"/><rect x="2352" y="920.8" width="7.2" height="6.8"/><path d="M2361,921.5 C2369,921.5 2377,927 2378,934.5 M2350.8,931.5 C2350.5,938 2353,942 2364,961.3 L2376,942"/><circle cx="2363.6" cy="938" r="4.2"/></g>
<g stroke-width="2.5"><path d="M2110.6,1288.9 V1249 a4.2,4.2 0 0 1 4.2,-4.2 H2151 a4.6,4.6 0 1 1 -1,9.3 M2145.9,1249 V1292 a6,6 0 0 1 -6,6 H2104.2 a4.6,4.6 0 0 1 0,-9.1 H2139 M2139,1288.9 a4.6,4.6 0 0 0 0,9.1"/><path d="M2117,1254 H2126.2 M2117,1261.2 H2140 M2117,1268 H2140 M2117,1274.9 H2140 M2117,1282 H2140"/></g>
<g stroke-width="1.9" stroke-linecap="butt" stroke-linejoin="miter"><path d="M2727.7,1254 V1247.2 H2688.8 V1297.3 H2697 M2699.5,1297.3 H2716 M2727.7,1256.5 V1273"/><rect x="2695.6" y="1255.6" width="8" height="7.8"/><path d="M2697.6,1259.6 l1.6,1.8 l3,-3.6"/><path d="M2707.2,1257.6H2720M2707.2,1261.3H2715"/><rect x="2695.6" y="1268" width="8" height="7.8"/><path d="M2697.6,1272 l1.6,1.8 l3,-3.6"/><path d="M2707.2,1270H2720M2707.2,1273.7H2715"/><rect x="2695.6" y="1280.5" width="8" height="7.8"/><path d="M2697.6,1284.5 l1.6,1.8 l3,-3.6"/><path d="M2707.2,1282.5H2714M2707.2,1286.2H2711"/><path d="M2691.6,1254.4 a3,2.6 0 1 0 0,4.2" stroke-width="1.8"/><path d="M2691.6,1262.0 a3,2.6 0 1 0 0,4.2" stroke-width="1.8"/><path d="M2691.6,1270.0 a3,2.6 0 1 0 0,4.2" stroke-width="1.8"/><path d="M2691.6,1278.1000000000001 a3,2.6 0 1 0 0,4.2" stroke-width="1.8"/><path d="M2691.6,1285.7 a3,2.6 0 1 0 0,4.2" stroke-width="1.8"/><path d="M2735.1,1284.8 L2738.8,1285.0 L2738.8,1288.8 L2735.1,1289.0 A10,10 0 0 1 2733.7,1292.3 L2733.7,1292.3 L2736.2,1295.1 L2733.5,1297.8 L2730.7,1295.3 A10,10 0 0 1 2727.4,1296.7 L2727.4,1296.7 L2727.2,1300.4 L2723.4,1300.4 L2723.2,1296.7 A10,10 0 0 1 2719.9,1295.3 L2719.9,1295.3 L2717.1,1297.8 L2714.4,1295.1 L2716.9,1292.3 A10,10 0 0 1 2715.5,1289.0 L2715.5,1289.0 L2711.8,1288.8 L2711.8,1285.0 L2715.5,1284.8 A10,10 0 0 1 2716.9,1281.5 L2716.9,1281.5 L2714.4,1278.7 L2717.1,1276.0 L2719.9,1278.5 A10,10 0 0 1 2723.2,1277.1 L2723.2,1277.1 L2723.4,1273.4 L2727.2,1273.4 L2727.4,1277.1 A10,10 0 0 1 2730.7,1278.5 L2730.7,1278.5 L2733.5,1276.0 L2736.2,1278.7 L2733.7,1281.5 A10,10 0 0 1 2735.1,1284.8 Z" fill="#FBFAEE" stroke-linejoin="round"/><circle cx="2725.3" cy="1286.9" r="6.8"/><path d="M2723.7000000000003,1290.3000000000002 L2726.5,1283.3000000000002 L2726.3,1288.4Z" fill="#9D9D9C" stroke-width="1"/></g>
<g stroke-width="2.3"><rect x="2178.4" y="1419.6" width="36.1" height="45.7" rx="2.2"/><path d="M2215.3,1425.2 H2219.3 a2,2 0 0 1 2,2 V1468.5 a2,2 0 0 1 -2,2 H2187.2 a2,2 0 0 1 -2,-2 V1466"/><path d="M2185.6,1425.6H2207.7 M2185.6,1430.6H2193.2 M2199.6,1430.6H2207.7 M2185.6,1435.4H2203.3 M2206.8,1435.4h0.4 M2185.6,1440.2H2207.7 M2189.6,1445.7H2193.6 M2199.6,1445.7H2207.7 M2199.6,1450.6H2207.7"/><path d="M2170.6,1441 L2192.8,1462.9 L2199.2,1463.7 L2197.2,1456.9 L2176.2,1435.8 A3.4,3.4 0 1 0 2170.6,1441 Z M2192.8,1462.9 L2197.2,1458" fill="#FEFAEC" stroke-linejoin="round"/></g>
</g>
<g fill="none" stroke="#29235C" stroke-width="2.2"><path d="M1796,1808.8 V1786.3 A123.3,123.3 0 0 0 1919.3,1663.1 H1971"/><path d="M1961.5,1654.1 L1971.5,1663.1 L1961.5,1672.1"/></g><circle cx="1796" cy="1808.8" r="5.9" fill="#29235C"/><circle cx="1796" cy="1662.8" r="98.75" fill="#fff" stroke="#29235C" stroke-width="10"/><circle cx="1725.9" cy="1596.8" r="36.6" fill="#fff"/><circle cx="1725.9" cy="1596.8" r="27.9" fill="#29235C"/><text x="1725.9" y="1592.7" font-size="16.5" fill="#fff" font-weight="700" text-anchor="middle" textLength="31.0" lengthAdjust="spacingAndGlyphs" >año</text>
<text x="1725.9" y="1614.6" font-size="21" fill="#fff" font-weight="700" text-anchor="middle" >1</text>
<text x="1801.2" y="1681.0" font-size="45" fill="#1B2A52" font-weight="700" text-anchor="middle" textLength="99.0" lengthAdjust="spacingAndGlyphs" stroke="#1B2A52" stroke-width="0.8" stroke-linejoin="round" >POA</text>

<g fill="none" stroke="#EE8B00" stroke-width="2.2"><path d="M2079,1808.8 V1786.3 A123.3,123.3 0 0 0 2202.3,1663.1 H2254"/><path d="M2244.5,1654.1 L2254.5,1663.1 L2244.5,1672.1"/></g><circle cx="2079" cy="1808.8" r="5.9" fill="#EE8B00"/><circle cx="2079" cy="1662.8" r="98.75" fill="#fff" stroke="#EE8B00" stroke-width="10"/><circle cx="2008.9" cy="1596.8" r="36.6" fill="#fff"/><circle cx="2008.9" cy="1596.8" r="27.9" fill="#EE8B00"/><text x="2008.9" y="1592.7" font-size="16.5" fill="#fff" font-weight="700" text-anchor="middle" textLength="31.0" lengthAdjust="spacingAndGlyphs" >año</text>
<text x="2008.9" y="1614.6" font-size="21" fill="#fff" font-weight="700" text-anchor="middle" >2</text>
<text x="2085.5" y="1681.0" font-size="45" fill="#1B2A52" font-weight="700" text-anchor="middle" textLength="99.0" lengthAdjust="spacingAndGlyphs" stroke="#1B2A52" stroke-width="0.8" stroke-linejoin="round" >POA</text>

<g fill="none" stroke="#2E9BD6" stroke-width="2.2"><path d="M2362,1808.8 V1786.3 A123.3,123.3 0 0 0 2485.3,1663.1 H2537"/><path d="M2527.5,1654.1 L2537.5,1663.1 L2527.5,1672.1"/></g><circle cx="2362" cy="1808.8" r="5.9" fill="#2E9BD6"/><circle cx="2362" cy="1662.8" r="98.75" fill="#fff" stroke="#2E9BD6" stroke-width="10"/><circle cx="2291.9" cy="1596.8" r="36.6" fill="#fff"/><circle cx="2291.9" cy="1596.8" r="27.9" fill="#2E9BD6"/><text x="2291.9" y="1592.7" font-size="16.5" fill="#fff" font-weight="700" text-anchor="middle" textLength="31.0" lengthAdjust="spacingAndGlyphs" >año</text>
<text x="2291.9" y="1614.6" font-size="21" fill="#fff" font-weight="700" text-anchor="middle" >3</text>
<text x="2359.4" y="1681.0" font-size="45" fill="#1B2A52" font-weight="700" text-anchor="middle" textLength="99.0" lengthAdjust="spacingAndGlyphs" stroke="#1B2A52" stroke-width="0.8" stroke-linejoin="round" >POA</text>

<g fill="none" stroke="#E4102C" stroke-width="2.2"><path d="M2645,1808.8 V1786.3 A123.3,123.3 0 0 0 2768.3,1663.1 H2820"/><path d="M2810.5,1654.1 L2820.5,1663.1 L2810.5,1672.1"/></g><circle cx="2645" cy="1808.8" r="5.9" fill="#E4102C"/><circle cx="2645" cy="1662.8" r="98.75" fill="#fff" stroke="#E4102C" stroke-width="10"/><circle cx="2574.9" cy="1596.8" r="36.6" fill="#fff"/><circle cx="2574.9" cy="1596.8" r="27.9" fill="#E4102C"/><text x="2574.9" y="1592.7" font-size="16.5" fill="#fff" font-weight="700" text-anchor="middle" textLength="31.0" lengthAdjust="spacingAndGlyphs" >año</text>
<text x="2574.9" y="1614.6" font-size="21" fill="#fff" font-weight="700" text-anchor="middle" >4</text>
<text x="2653.2" y="1681.0" font-size="45" fill="#1B2A52" font-weight="700" text-anchor="middle" textLength="99.0" lengthAdjust="spacingAndGlyphs" stroke="#1B2A52" stroke-width="0.8" stroke-linejoin="round" >POA</text>

<g fill="none" stroke="#662483" stroke-width="2.2"><path d="M2928,1808.8 V1786.3 A123.3,123.3 0 0 0 3051.3,1663.1"/></g><circle cx="2928" cy="1808.8" r="5.9" fill="#662483"/><circle cx="2928" cy="1662.8" r="98.75" fill="#fff" stroke="#662483" stroke-width="10"/><circle cx="2857.9" cy="1596.8" r="36.6" fill="#fff"/><circle cx="2857.9" cy="1596.8" r="27.9" fill="#662483"/><text x="2857.9" y="1592.7" font-size="16.5" fill="#fff" font-weight="700" text-anchor="middle" textLength="31.0" lengthAdjust="spacingAndGlyphs" >año</text>
<text x="2857.9" y="1614.6" font-size="21" fill="#fff" font-weight="700" text-anchor="middle" >5</text>
<text x="2935.2" y="1681.0" font-size="45" fill="#1B2A52" font-weight="700" text-anchor="middle" textLength="99.0" lengthAdjust="spacingAndGlyphs" stroke="#1B2A52" stroke-width="0.8" stroke-linejoin="round" >POA</text>

<rect x="1595.7" y="1787" width="7.6" height="2332" fill="#E03C31" transform="scale(1,1)" style="display:none"/><path d="M1599.5,1787 V2119" stroke="#E03C31" stroke-width="7.6"/><circle cx="1599.5" cy="2119.5" r="8.5" fill="#E03C31"/>
<path d="M2793,1800 V2132" stroke="#E03C31" stroke-width="7.6"/><circle cx="2793" cy="2132.5" r="8.3" fill="#E03C31"/>
<g transform="translate(1570.5,2116) rotate(-90)"><text x="0.0" y="0.0" font-size="36.5" fill="#2A5CAA" font-weight="700" textLength="320.0" lengthAdjust="spacingAndGlyphs" stroke="#2A5CAA" stroke-width="0.8" stroke-linejoin="round" >PLANIFICACIÓN</text>
</g>
<g transform="translate(2879.5,2120) rotate(-90)"><text x="0.0" y="0.0" font-size="36.5" fill="#2A5CAA" font-weight="700" textLength="301.0" lengthAdjust="spacingAndGlyphs" stroke="#2A5CAA" stroke-width="0.8" stroke-linejoin="round" >PRESUPUESTO</text>
</g>
<text x="1616.0" y="1861.6" font-size="30" fill="#1B2A52" textLength="142.0" lengthAdjust="spacingAndGlyphs" stroke="#1B2A52" stroke-width="0.4" stroke-linejoin="round" >Resultado</text>
<text x="1616.0" y="1906.1" font-size="30" fill="#1B2A52" textLength="131.0" lengthAdjust="spacingAndGlyphs" stroke="#1B2A52" stroke-width="0.4" stroke-linejoin="round" >Producto</text>
<text x="1616.0" y="1950.7" font-size="30" fill="#1B2A52" textLength="525.5" lengthAdjust="spacingAndGlyphs" stroke="#1B2A52" stroke-width="0.4" stroke-linejoin="round" >Subproducto / Proyecto de Inversión</text>
<text x="1841.4" y="1995.2" font-size="30" fill="#1B2A52" textLength="184.5" lengthAdjust="spacingAndGlyphs" stroke="#1B2A52" stroke-width="0.4" stroke-linejoin="round" >Proyectos de</text>
<text x="1839.8" y="2039.8" font-size="30" fill="#1B2A52" textLength="180.0" lengthAdjust="spacingAndGlyphs" stroke="#1B2A52" stroke-width="0.4" stroke-linejoin="round" >Cooperación</text>
<text x="1849.0" y="2084.3" font-size="30" fill="#1B2A52" textLength="184.5" lengthAdjust="spacingAndGlyphs" stroke="#1B2A52" stroke-width="0.4" stroke-linejoin="round" >Internacional</text>
<text x="1616.0" y="2128.9" font-size="30" fill="#1B2A52" textLength="127.5" lengthAdjust="spacingAndGlyphs" stroke="#1B2A52" stroke-width="0.4" stroke-linejoin="round" >Acciones</text>
<text x="1616.0" y="2173.4" font-size="30" fill="#1B2A52" textLength="118.5" lengthAdjust="spacingAndGlyphs" stroke="#1B2A52" stroke-width="0.4" stroke-linejoin="round" >Insumos</text>
<text x="2925.0" y="1875.4" font-size="30" fill="#1B2A52" textLength="137.5" lengthAdjust="spacingAndGlyphs" stroke="#1B2A52" stroke-width="0.4" stroke-linejoin="round" >Programa</text>
<text x="2925.0" y="1920.2" font-size="30" fill="#1B2A52" textLength="192.0" lengthAdjust="spacingAndGlyphs" stroke="#1B2A52" stroke-width="0.4" stroke-linejoin="round" >Subprograma</text>
<text x="2925.0" y="1964.9" font-size="30" fill="#1B2A52" textLength="126.5" lengthAdjust="spacingAndGlyphs" stroke="#1B2A52" stroke-width="0.4" stroke-linejoin="round" >Proyecto</text>
<text x="2925.0" y="2009.7" font-size="30" fill="#1B2A52" textLength="236.0" lengthAdjust="spacingAndGlyphs" stroke="#1B2A52" stroke-width="0.4" stroke-linejoin="round" >Actividad u Obra</text>
<path d="M2215.8,1990.5 V1989.2 A100,100 0 0 1 2315.8,1889.2 H2661 V1850.3 L2740.7,1909.5 L2661,1969.5 V1930 H2315.3 A60,60 0 0 0 2255.3,1990 V1990.5Z" fill="url(#gArr)"/>
<path d="M2740.7,1990.5 V1991.7 A100,100 0 0 1 2640.7,2091.7 H2295.5 V2130.6 L2215.8,2071.5 L2295.5,2012 V2051 H2641.2 A60,60 0 0 0 2701.2,1991 V1990.5Z" fill="url(#gArr)"/>
<text x="2480.0" y="1980.7" font-size="34" fill="#1B2A52" font-weight="700" text-anchor="middle" textLength="196.0" lengthAdjust="spacingAndGlyphs" stroke="#1B2A52" stroke-width="0.7" stroke-linejoin="round" >Vinculación</text>
<text x="2480.0" y="2021.0" font-size="34" fill="#1B2A52" font-weight="700" text-anchor="middle" textLength="312.0" lengthAdjust="spacingAndGlyphs" stroke="#1B2A52" stroke-width="0.7" stroke-linejoin="round" >Plan - Presupuesto</text>
<text x="1297.5" y="2410.6" font-size="40" fill="#2E4057" font-weight="700" font-style="italic" textLength="432.0" lengthAdjust="spacingAndGlyphs" stroke="#2E4057" stroke-width="0.8" stroke-linejoin="round" >Infografía del -SNP-</text>
</svg>
</body></html>
